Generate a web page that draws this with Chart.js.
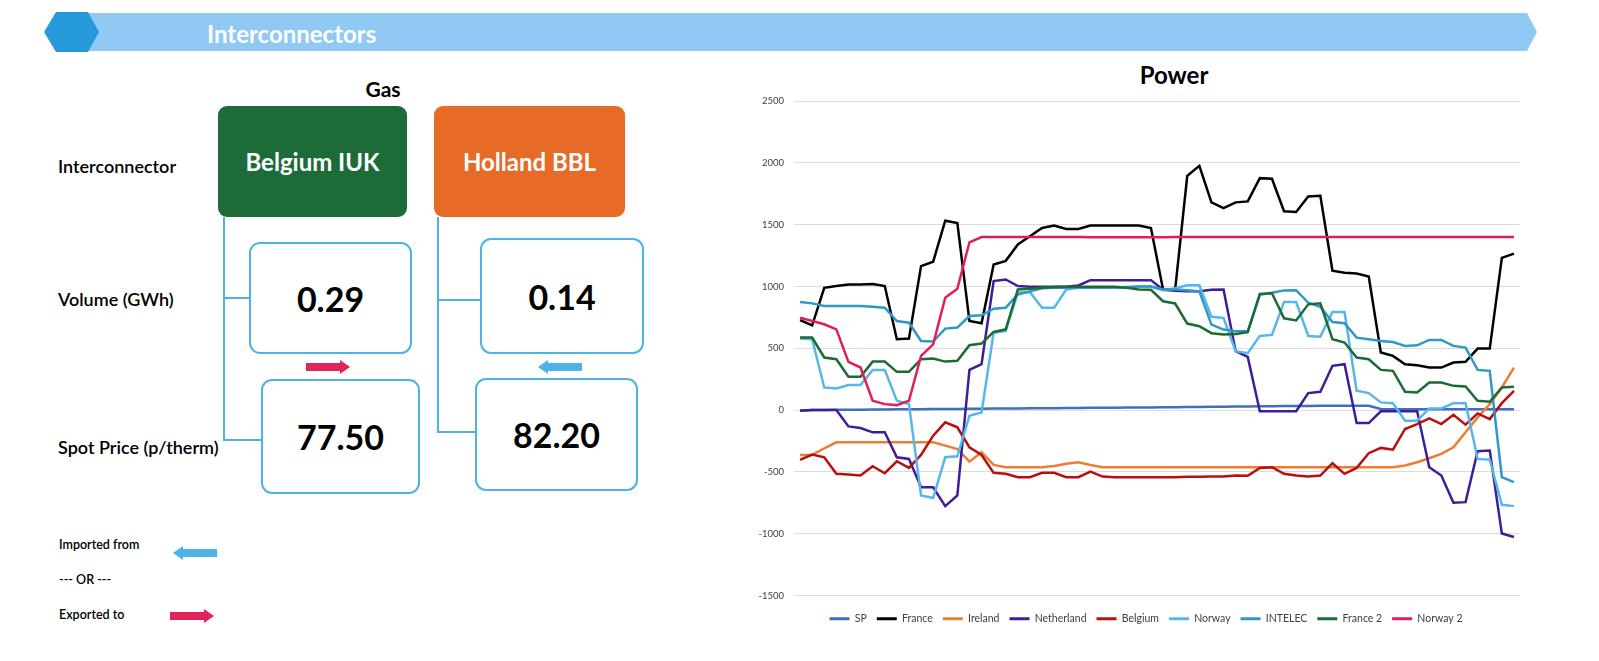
<!DOCTYPE html>
<html>
<head>
<meta charset="utf-8">
<title>Interconnectors</title>
<script src="https://cdn.jsdelivr.net/npm/chart.js@4.4.1/dist/chart.umd.min.js"></script>
<style>
  body { margin: 0; width: 1599px; height: 661px; background: #fff; position: relative; overflow: hidden; font-family: Lato, "Open Sans", sans-serif; color: #000; }
  .abs { position: absolute; }
  .head-title { left: 207px; top: 19px; font-size: 24px; font-weight: 700; color: #fff; line-height: 30px; }
  .gas-title { left: 340px; top: 76px; width: 86px; text-align: center; font-size: 21px; font-weight: 700; }
  .power-title { left: 1100px; top: 60px; width: 148px; text-align: center; font-size: 24px; font-weight: 700; line-height: 30px; }
  .row-label { left: 58px; font-size: 18px; font-weight: 600; line-height: 22px; }
  .ic-box { border-radius: 9px; color: #fff; font-size: 24px; font-weight: 700; display: flex; align-items: center; justify-content: center; }
  .val-box { border: 2.5px solid #4db3e6; border-radius: 11px; box-sizing: border-box; display: flex; align-items: center; justify-content: center; font-size: 34px; font-weight: 700; }
  .line { background: #4db3e6; }
  .key { left: 59px; font-size: 12.5px; font-weight: 600; line-height: 14px; }
  #power { left: 740px; top: 60px; width: 790px; height: 574px; }
</style>
</head>
<body>

<!-- banner -->
<svg class="abs" style="left:0;top:0" width="1599" height="60">
  <polygon points="60,13 1527,13 1537,32 1527,51 60,51" fill="#8fc9f4"/>
  <polygon points="44,32 56,12 88,12 99,32 88,52 56,52" fill="#2699da"/>
</svg>
<div class="abs head-title">Interconnectors</div>

<!-- gas panel -->
<div class="abs gas-title">Gas</div>
<div class="abs row-label" style="top:155px">Interconnector</div>
<div class="abs row-label" style="top:288px">Volume (GWh)</div>
<div class="abs row-label" style="top:436px">Spot Price (p/therm)</div>

<div class="abs ic-box" style="left:218px;top:106px;width:189px;height:111px;background:#1e6b3a">Belgium IUK</div>
<div class="abs ic-box" style="left:434px;top:106px;width:191px;height:111px;background:#e66b27">Holland BBL</div>

<div class="abs line" style="left:223px;top:217px;width:2px;height:224px"></div>
<div class="abs line" style="left:223px;top:297px;width:27px;height:2px"></div>
<div class="abs line" style="left:223px;top:439px;width:39px;height:2px"></div>

<div class="abs line" style="left:437px;top:217px;width:2px;height:216px"></div>
<div class="abs line" style="left:437px;top:299px;width:44px;height:2px"></div>
<div class="abs line" style="left:437px;top:431px;width:39px;height:2px"></div>

<div class="abs val-box" style="left:249px;top:242px;width:163px;height:112px">0.29</div>
<div class="abs val-box" style="left:480px;top:238px;width:164px;height:116px">0.14</div>
<div class="abs val-box" style="left:261px;top:379px;width:159px;height:115px">77.50</div>
<div class="abs val-box" style="left:475px;top:378px;width:163px;height:113px">82.20</div>

<svg class="abs" style="left:306px;top:360px" width="45" height="15">
  <polygon points="0,3 34,3 34,0 44,7 34,14 34,11 0,11" fill="#e3245c"/>
</svg>
<svg class="abs" style="left:537px;top:360px" width="45" height="15">
  <polygon points="45,3 11,3 11,0 1,7 11,14 11,11 45,11" fill="#4db3e6"/>
</svg>

<div class="abs key" style="top:538px">Imported from</div>
<svg class="abs" style="left:172px;top:546px" width="45" height="15">
  <polygon points="45,3 11,3 11,0 1,7 11,14 11,11 45,11" fill="#4db3e6"/>
</svg>
<div class="abs key" style="top:573px">--- OR ---</div>
<div class="abs key" style="top:608px">Exported to</div>
<svg class="abs" style="left:170px;top:609px" width="45" height="15">
  <polygon points="0,3 34,3 34,0 44,7 34,14 34,11 0,11" fill="#e3245c"/>
</svg>

<!-- power chart -->
<div class="abs power-title">Power</div>
<div class="abs" id="power"><canvas id="powerChart"></canvas></div>

<script>
// periods of the day (60 readings)
const periods = [1,2,3,4,5,6,7,8,9,10,11,12,13,14,15,16,17,18,19,20,
  21,22,23,24,25,26,27,28,29,30,31,32,33,34,35,36,37,38,39,40,
  41,42,43,44,45,46,47,48,49,50,51,52,53,54,55,56,57,58,59,60];

const yMin = -1500;
const yMax = 2500;
const yStep = 500;

// flows in MW
const sp = [-3,0,1,2,3,3,4,5,6,6,7,8,9,9,10,11,12,12,13,14,
  15,15,16,17,18,18,19,20,21,21,22,23,24,25,26,27,28,29,30,31,
  32,33,33,34,35,35,35,34,8,6,6,6,6,6,6,6,6,6,6,6];

const france = [728,685,989,1003,1016,1016,1019,1003,573,578,1164,1200,1532,1513,720,702,1177,1207,1339,1406,
  1473,1492,1465,1465,1492,1492,1492,1492,1492,1473,975,975,1895,1976,1680,1634,1680,1688,1876,1871,
  1608,1602,1728,1734,1128,1110,1105,1080,465,438,371,363,344,344,384,390,497,497,1231,1266];

const ireland = [-363,-363,-309,-261,-261,-261,-261,-261,-261,-261,-261,-261,-288,-315,-417,-341,-444,-462,-462,-462,
  -462,-452,-435,-422,-444,-462,-462,-462,-462,-462,-462,-462,-462,-462,-462,-462,-462,-462,-462,-462,
  -462,-462,-462,-462,-462,-462,-462,-462,-462,-462,-449,-422,-390,-355,-301,-180,-59,48,183,344];

const netherland = [-5,0,0,0,-132,-145,-180,-180,-382,-395,-624,-624,-777,-691,325,371,1043,1056,1003,997,
  997,997,997,1008,1051,1051,1051,1051,1051,1051,973,965,962,962,973,975,476,430,-10,-10,
  -10,-10,137,148,358,371,-105,-105,-10,-10,-10,-10,-462,-530,-750,-745,-333,-328,-999,-1027];

const belgium = [-403,-360,-382,-516,-521,-530,-454,-511,-414,-468,-363,-207,-99,-140,-301,-363,-508,-516,-543,-543,
  -508,-508,-543,-543,-497,-538,-543,-543,-543,-543,-543,-543,-540,-540,-538,-538,-530,-532,-468,-462,
  -516,-530,-538,-530,-430,-516,-468,-349,-306,-320,-153,-113,-67,-113,-38,-118,-27,-73,56,156];

const norway = [578,573,183,175,202,202,325,325,75,48,-691,-712,-382,-374,-46,-19,626,640,949,954,
  828,828,975,989,989,989,989,989,1000,1000,970,985,1010,1010,755,745,476,460,600,608,
  874,874,599,594,793,793,156,137,62,56,-86,-86,13,13,56,56,-395,-401,-766,-777];

const intelec = [874,863,841,841,841,841,836,828,720,707,559,554,659,667,761,766,820,828,935,960,
  985,990,990,992,992,992,992,995,1000,1000,975,975,970,960,691,651,637,637,933,949,
  968,970,868,836,712,702,586,573,559,551,519,524,567,567,519,505,325,317,-543,-583];

const france2 = [586,586,425,411,269,269,392,392,309,309,411,417,392,398,524,538,632,653,976,981,
  990,995,997,997,997,997,997,990,975,973,880,862,700,678,622,612,615,630,940,945,
  742,725,855,863,573,546,425,411,325,317,148,142,223,223,196,191,75,67,183,188];

const norway2 = [747,720,694,653,390,344,75,48,40,75,438,532,909,981,1357,1400,1400,1400,1400,1400,
  1400,1400,1400,1400,1398,1397,1397,1397,1397,1397,1398,1400,1400,1400,1400,1400,1400,1400,1400,1400,
  1400,1400,1400,1400,1400,1400,1400,1400,1400,1400,1400,1400,1400,1400,1400,1400,1400,1400,1400,1400];

const seriesNames = ['SP','France','Ireland','Netherland','Belgium','Norway','INTELEC','France 2','Norway 2'];
const seriesData = [sp, france, ireland, netherland, belgium, norway, intelec, france2, norway2];
const seriesColors = ['#3f6fc0','#000000','#ed7d31','#3d1d9a','#b80f0f','#56b7ea','#2e98c8','#1b6b34','#e01e5a'];

const datasets = seriesNames.map((name, i) => ({
  label: name,
  data: seriesData[i],
  borderColor: seriesColors[i],
  backgroundColor: seriesColors[i],
  borderWidth: 2.5,
  pointRadius: 0,
  tension: 0,
  order: seriesNames.length - i   // later series drawn on top, like the source
}));

// nudge the legend a bit to the right, the source legend is not centred on the canvas
const legendShift = {
  id: 'legendShift',
  afterLayout(chart) {
    chart.legend.left += 16;
    chart.legend.right += 16;
  }
};

new Chart(document.getElementById('powerChart'), {
  type: 'line',
  data: { labels: periods, datasets: datasets },
  plugins: [legendShift],
  options: {
    responsive: true,
    maintainAspectRatio: false,
    animation: false,
    // top padding leaves room for the html title
    layout: { padding: { left: 0, right: 10, top: 41, bottom: 0 } },
    scales: {
      x: {
        offset: true,
        ticks: { display: false },
        grid: { display: false },
        border: { display: false },
        afterFit: s => { s.height = 8; }
      },
      y: {
        min: yMin,
        max: yMax,
        ticks: {
          stepSize: yStep,
          padding: 10,
          color: '#404040',
          font: { family: 'Lato', size: 9.5 },
          callback: v => String(v)
        },
        grid: { color: '#dcdcdc', drawTicks: false },
        border: { display: false },
        afterFit: s => { s.width = 54; }
      }
    },
    plugins: {
      title: { display: false },
      legend: {
        position: 'bottom',
        labels: {
          boxWidth: 20,
          boxHeight: 3,
          padding: 10,
          color: '#404040',
          font: { family: 'Lato', size: 10.5 },
          sort: (a, b) => a.datasetIndex - b.datasetIndex,
          generateLabels(chart) {
            const items = Chart.defaults.plugins.legend.labels.generateLabels(chart);
            items.forEach(it => { it.lineWidth = 0; it.fillStyle = it.strokeStyle; });
            return items;
          }
        }
      },
      tooltip: { enabled: false }
    }
  }
});
</script>
</body>
</html>
